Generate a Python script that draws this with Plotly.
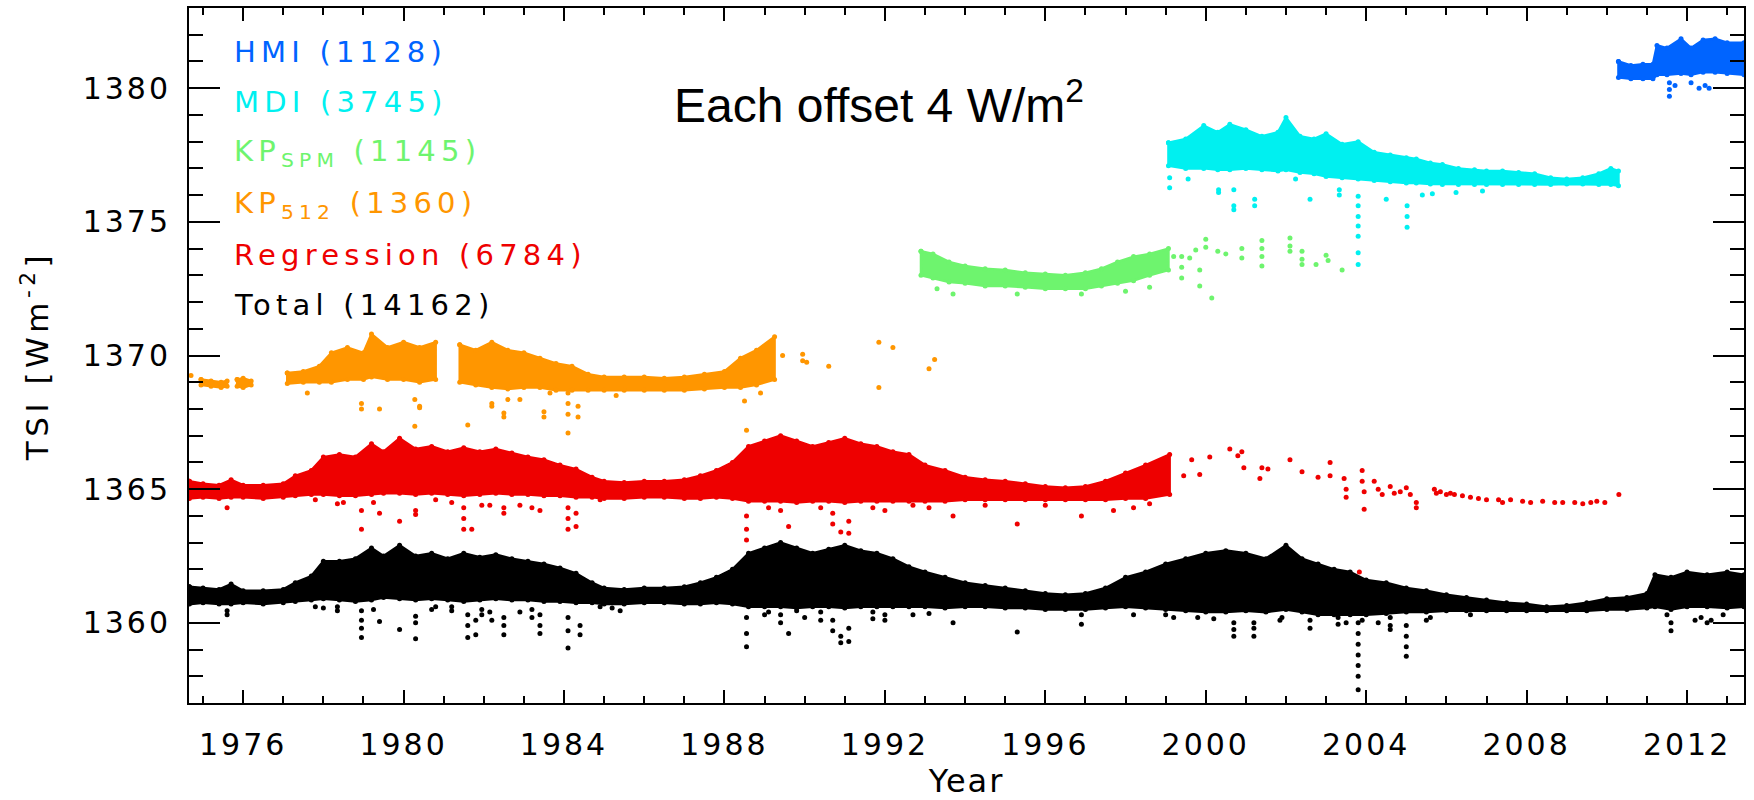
import plotly.graph_objects as go

# ---------------- data ----------------
# Total (black) envelope
total_yr = [1974.66, 1975.0, 1975.4, 1975.7, 1976.0, 1976.5, 1977.0, 1977.3, 1977.7, 1978.0,
            1978.4, 1978.8, 1979.2, 1979.5, 1979.9, 1980.3, 1980.7, 1981.1, 1981.5, 1981.9,
            1982.3, 1982.7, 1983.1, 1983.5, 1983.9, 1984.3, 1984.7, 1985.0, 1985.5, 1986.0,
            1986.5, 1987.0, 1987.4, 1987.8, 1988.2, 1988.6, 1989.0, 1989.4, 1989.8, 1990.2,
            1990.6, 1991.0, 1991.4, 1991.8, 1992.2, 1992.6, 1993.0, 1993.5, 1994.0, 1994.5,
            1995.0, 1995.5, 1996.0, 1996.5, 1997.0, 1997.5, 1998.0, 1998.5, 1999.0, 1999.5,
            2000.0, 2000.5, 2001.0, 2001.5, 2002.0, 2002.4, 2002.8, 2003.2, 2003.6, 2004.0,
            2004.5, 2005.0, 2005.5, 2006.0, 2006.5, 2007.0, 2007.5, 2008.0, 2008.5, 2009.0,
            2009.5, 2010.0, 2010.5, 2011.0, 2011.2, 2011.6, 2012.0, 2012.5, 2013.0, 2013.42]
total_hi = [1361.35, 1361.3, 1361.25, 1361.45, 1361.2, 1361.2, 1361.25, 1361.5, 1361.75, 1362.3,
            1362.3, 1362.4, 1362.8, 1362.5, 1362.9, 1362.5, 1362.6, 1362.4, 1362.6, 1362.45,
            1362.55, 1362.4, 1362.3, 1362.2, 1362.05, 1361.85, 1361.5, 1361.3, 1361.25, 1361.3,
            1361.3, 1361.35, 1361.5, 1361.7, 1362.0, 1362.6, 1362.8, 1363.0, 1362.8, 1362.6,
            1362.75, 1362.9, 1362.7, 1362.6, 1362.4, 1362.1, 1361.9, 1361.7, 1361.5, 1361.4,
            1361.3, 1361.2, 1361.1, 1361.05, 1361.1, 1361.3, 1361.7, 1361.9, 1362.2, 1362.4,
            1362.6, 1362.7, 1362.6, 1362.4, 1362.9, 1362.4, 1362.2, 1362.0, 1361.9, 1361.6,
            1361.5, 1361.3, 1361.2, 1361.05, 1360.95, 1360.85, 1360.75, 1360.7, 1360.6, 1360.65,
            1360.75, 1360.9, 1360.95, 1361.1, 1361.8, 1361.7, 1361.9, 1361.8, 1361.9, 1361.8]
total_lo = [1360.7, 1360.75, 1360.7, 1360.7, 1360.75, 1360.7, 1360.75, 1360.8, 1360.85, 1360.9,
            1360.85, 1360.8, 1360.85, 1360.95, 1360.9, 1360.85, 1360.9, 1360.85, 1360.8, 1360.85,
            1360.9, 1360.85, 1360.85, 1360.8, 1360.8, 1360.75, 1360.75, 1360.7, 1360.7, 1360.75,
            1360.75, 1360.7, 1360.7, 1360.75, 1360.7, 1360.6, 1360.6, 1360.6, 1360.55, 1360.6,
            1360.6, 1360.55, 1360.6, 1360.6, 1360.6, 1360.6, 1360.6, 1360.55, 1360.6, 1360.6,
            1360.55, 1360.55, 1360.5, 1360.5, 1360.5, 1360.55, 1360.6, 1360.55, 1360.5, 1360.45,
            1360.4, 1360.4, 1360.45, 1360.4, 1360.5, 1360.4, 1360.3, 1360.3, 1360.3, 1360.3,
            1360.35, 1360.4, 1360.4, 1360.45, 1360.45, 1360.45, 1360.45, 1360.45, 1360.45, 1360.45,
            1360.45, 1360.5, 1360.5, 1360.55, 1360.6, 1360.5, 1360.6, 1360.6, 1360.55, 1360.6]
total_dip_yr = [1975.6, 1975.6, 1977.8, 1978.0, 1978.35, 1978.35, 1978.95, 1978.95, 1978.95, 1978.95,
                1979.25, 1979.4, 1979.9, 1980.3, 1980.3, 1980.3, 1980.7, 1980.8, 1981.2, 1981.2,
                1981.6, 1981.6, 1981.6, 1981.8, 1981.8, 1981.95, 1981.95, 1982.15, 1982.2,
                1982.5, 1982.5, 1982.5, 1982.9, 1983.2, 1983.2, 1983.4, 1983.4, 1983.4, 1984.1,
                1984.1, 1984.1, 1984.4, 1984.4, 1984.9, 1985.2, 1985.4, 1988.55, 1988.55, 1988.55,
                1989.0, 1989.1, 1989.4, 1989.4, 1989.6, 1989.8, 1990.0, 1990.4, 1990.4, 1990.7,
                1990.7, 1990.9, 1990.9, 1991.1, 1991.1, 1991.7, 1991.7, 1992.0, 1992.0, 1992.7,
                1993.1, 1993.7, 1995.3, 1996.9, 1996.9, 1998.2, 1999.0, 1999.2, 1999.8, 2000.2,
                2000.7, 2000.7, 2000.7, 2001.2, 2001.2, 2001.2, 2001.85, 2001.9, 2002.6, 2002.6,
                2003.3, 2003.3, 2003.5, 2003.8, 2003.8, 2003.8, 2003.8, 2003.8, 2003.8, 2003.8,
                2003.9, 2004.3, 2004.6, 2004.6, 2004.6, 2005.0, 2005.0, 2005.0, 2005.0, 2005.5,
                2005.6, 2006.6, 2011.5, 2011.6, 2011.6, 2012.2, 2012.35, 2012.5, 2012.6, 2012.9]
total_dip_val = [1360.45, 1360.3, 1360.6, 1360.55, 1360.6, 1360.45, 1360.45, 1360.1, 1359.8, 1359.45,
                 1360.5, 1360.05, 1359.75, 1360.25, 1360.0, 1359.4, 1360.5, 1360.6, 1360.6, 1360.45,
                 1360.3, 1359.9, 1359.45, 1360.1, 1359.55, 1360.5, 1360.3, 1360.4, 1360.1,
                 1360.2, 1359.9, 1359.55, 1360.4, 1360.5, 1360.2, 1360.3, 1359.9, 1359.6, 1360.2,
                 1359.7, 1359.06, 1359.9, 1359.55, 1360.6, 1360.55, 1360.45, 1360.2, 1359.6, 1359.1,
                 1360.3, 1360.4, 1360.3, 1360.0, 1359.6, 1360.45, 1360.2, 1360.4, 1360.1, 1360.1,
                 1359.7, 1359.5, 1359.25, 1359.8, 1359.3, 1360.4, 1360.15, 1360.3, 1360.1, 1360.3,
                 1360.35, 1360.0, 1359.66, 1360.3, 1359.95, 1360.3, 1360.3, 1360.2, 1360.2, 1360.15,
                 1360.0, 1359.75, 1359.5, 1360.0, 1359.8, 1359.5, 1360.1, 1360.2, 1360.1, 1359.8,
                 1360.2, 1359.95, 1360.0, 1360.0, 1359.6, 1359.2, 1358.8, 1358.4, 1358.0, 1357.5,
                 1360.1, 1360.0, 1360.2, 1359.9, 1359.75, 1359.9, 1359.5, 1359.1, 1358.75, 1360.1,
                 1360.2, 1360.3, 1360.3, 1359.7, 1360.0, 1360.1, 1360.2, 1360.0, 1360.1, 1360.3]

# Regression (red) envelope
regr_yr = [1974.66, 1975.0, 1975.4, 1975.7, 1976.0, 1976.5, 1977.0, 1977.3, 1977.7, 1978.0,
           1978.4, 1978.8, 1979.2, 1979.5, 1979.9, 1980.3, 1980.7, 1981.1, 1981.5, 1981.9,
           1982.3, 1982.7, 1983.1, 1983.5, 1983.9, 1984.3, 1984.7, 1985.0, 1985.5, 1986.0,
           1986.5, 1987.0, 1987.4, 1987.8, 1988.2, 1988.6, 1989.0, 1989.4, 1989.8, 1990.2,
           1990.6, 1991.0, 1991.4, 1991.8, 1992.2, 1992.6, 1993.0, 1993.5, 1994.0, 1994.5,
           1995.0, 1995.5, 1996.0, 1996.5, 1997.0, 1997.5, 1998.0, 1998.5, 1999.1]
regr_hi = [1365.3, 1365.2, 1365.15, 1365.35, 1365.15, 1365.15, 1365.2, 1365.5, 1365.7, 1366.2,
           1366.3, 1366.2, 1366.7, 1366.4, 1366.9, 1366.5, 1366.6, 1366.4, 1366.55, 1366.4,
           1366.5, 1366.35, 1366.2, 1366.1, 1365.9, 1365.75, 1365.45, 1365.3, 1365.25, 1365.3,
           1365.3, 1365.35, 1365.5, 1365.7, 1366.0, 1366.6, 1366.8, 1367.0, 1366.8, 1366.6,
           1366.75, 1366.9, 1366.7, 1366.6, 1366.4, 1366.3, 1365.9, 1365.7, 1365.45, 1365.35,
           1365.3, 1365.2, 1365.1, 1365.05, 1365.1, 1365.3, 1365.6, 1365.9, 1366.3]
regr_lo = [1364.65, 1364.7, 1364.65, 1364.7, 1364.7, 1364.65, 1364.7, 1364.75, 1364.8, 1364.8,
           1364.75, 1364.75, 1364.8, 1364.85, 1364.85, 1364.8, 1364.85, 1364.8, 1364.75, 1364.8,
           1364.85, 1364.8, 1364.8, 1364.75, 1364.75, 1364.7, 1364.7, 1364.65, 1364.65, 1364.7,
           1364.7, 1364.65, 1364.65, 1364.7, 1364.65, 1364.55, 1364.55, 1364.55, 1364.5, 1364.55,
           1364.55, 1364.5, 1364.55, 1364.55, 1364.55, 1364.55, 1364.55, 1364.55, 1364.6, 1364.6,
           1364.6, 1364.6, 1364.6, 1364.6, 1364.6, 1364.6, 1364.65, 1364.65, 1364.8]
regr_pt_yr = [1975.6, 1977.8, 1978.35, 1978.5, 1978.95, 1978.95, 1979.25, 1979.4, 1979.9, 1980.3,
              1980.3, 1980.8, 1981.2, 1981.5, 1981.5, 1981.5, 1981.7, 1981.95, 1982.15, 1982.5,
              1982.5, 1982.9, 1983.2, 1983.4, 1984.1, 1984.1, 1984.1, 1984.3, 1984.3, 1984.9,
              1988.55, 1988.55, 1988.55, 1989.1, 1989.4, 1989.6, 1990.4, 1990.7, 1990.7, 1990.9,
              1991.1, 1991.1, 1991.7, 1992.0, 1992.7, 1993.1, 1993.7, 1994.5, 1995.3, 1996.0,
              1996.9, 1997.7, 1998.2, 1998.6,
              1999.45, 1999.65, 1999.85, 2000.1, 2000.6, 2000.8, 2000.9, 2000.95, 2001.35, 2001.4,
              2001.55, 2002.1, 2002.4, 2002.8, 2003.1, 2003.1, 2003.45, 2003.5, 2003.5, 2003.9,
              2003.9, 2003.95, 2003.95, 2004.2, 2004.3, 2004.4, 2004.6, 2004.7, 2004.85, 2005.0,
              2005.1, 2005.25, 2005.25, 2005.7, 2005.75, 2005.85, 2006.0, 2006.1, 2006.2, 2006.4,
              2006.6, 2006.8, 2007.0, 2007.3, 2007.4, 2007.6, 2007.9, 2008.1, 2008.4, 2008.7,
              2008.9, 2009.2, 2009.4, 2009.6, 2009.75, 2009.95, 2010.3, 2003.83]
regr_pt_val = [1364.3, 1364.6, 1364.45, 1364.5, 1364.2, 1363.5, 1364.5, 1364.1, 1363.8, 1364.2,
               1364.05, 1364.6, 1364.5, 1364.3, 1363.9, 1363.5, 1363.5, 1364.4, 1364.4, 1364.3,
               1364.1, 1364.4, 1364.3, 1364.2, 1364.3, 1363.9, 1363.5, 1364.1, 1363.6, 1364.6,
               1364.0, 1363.5, 1363.1, 1364.3, 1364.2, 1363.6, 1364.3, 1364.1, 1363.7, 1363.4,
               1363.8, 1363.35, 1364.3, 1364.2, 1364.4, 1364.3, 1364.0, 1364.4, 1363.7, 1364.4,
               1364.0, 1364.2, 1364.3, 1364.45,
               1365.5, 1366.1, 1365.55, 1366.2, 1366.5, 1366.25, 1366.4, 1365.8, 1365.4, 1365.8,
               1365.75, 1366.1, 1365.65, 1365.45, 1366.0, 1365.5, 1365.4, 1365.0, 1364.7, 1365.7,
               1365.3, 1364.9, 1364.25, 1365.3, 1365.0, 1364.8, 1365.1, 1364.85, 1364.9, 1365.05,
               1364.8, 1364.5, 1364.3, 1365.0, 1364.85, 1364.9, 1364.8, 1364.85, 1364.8, 1364.75,
               1364.7, 1364.65, 1364.6, 1364.6, 1364.5, 1364.6, 1364.55, 1364.5, 1364.55, 1364.5,
               1364.5, 1364.5, 1364.45, 1364.5, 1364.55, 1364.5, 1364.8, 1361.9]

# KP512 (orange) envelope, None marks a data gap
kp512_yr = [1974.95, 1975.2, 1975.45, 1975.6, None, 1975.85, 1976.0, 1976.2, None,
            1977.1, 1977.5, 1977.9, 1978.2, 1978.6, 1979.0, 1979.2, 1979.6, 1980.0, 1980.4, 1980.8, None,
            1981.4, 1981.8, 1982.2, 1982.6, 1983.0, 1983.4, 1983.8, 1984.2, 1984.6, 1985.0,
            1985.5, 1986.0, 1986.5, 1987.0, 1987.5, 1988.0, 1988.4, 1988.8, 1989.25]
kp512_hi = [1369.1, 1369.05, 1369.0, 1369.05, None, 1369.1, 1369.15, 1369.05, None,
            1369.35, 1369.4, 1369.6, 1370.1, 1370.3, 1370.1, 1370.8, 1370.3, 1370.5, 1370.3, 1370.5, None,
            1370.4, 1370.2, 1370.5, 1370.2, 1370.1, 1369.9, 1369.7, 1369.6, 1369.3, 1369.2,
            1369.2, 1369.2, 1369.15, 1369.2, 1369.3, 1369.4, 1369.9, 1370.2, 1370.7]
kp512_lo = [1368.9, 1368.85, 1368.8, 1368.85, None, 1368.85, 1368.8, 1368.9, None,
            1368.95, 1369.0, 1369.0, 1369.0, 1369.1, 1369.1, 1369.2, 1369.1, 1369.1, 1369.0, 1369.1, None,
            1369.0, 1368.9, 1368.8, 1368.75, 1368.8, 1368.8, 1368.7, 1368.7, 1368.7, 1368.7,
            1368.7, 1368.7, 1368.7, 1368.7, 1368.75, 1368.8, 1368.8, 1368.9, 1369.1]
kp512_pt_yr = [1974.7, 1977.6, 1978.95, 1978.95, 1979.4, 1980.28, 1980.4, 1980.4, 1980.28, 1981.6,
               1982.2, 1982.2, 1982.5, 1982.5, 1982.6, 1982.9, 1983.5, 1983.5, 1983.65, 1984.1,
               1984.1, 1984.1, 1984.1, 1984.35, 1984.35, 1985.3, 1988.5, 1988.55, 1988.9,
               1989.45, 1989.95, 1989.95, 1990.05, 1990.6, 1991.85, 1991.85, 1992.2, 1993.1, 1993.24]
kp512_pt_val = [1369.25, 1368.6, 1368.2, 1368.0, 1368.0, 1368.35, 1368.1, 1368.05, 1367.35, 1367.4,
                1368.2, 1368.1, 1367.85, 1367.7, 1368.35, 1368.35, 1367.9, 1367.7, 1368.6, 1368.6,
                1368.2, 1367.8, 1367.1, 1368.1, 1367.7, 1368.5, 1368.3, 1367.2, 1368.6,
                1370.0, 1370.05, 1369.8, 1369.75, 1369.6, 1370.5, 1368.8, 1370.3, 1369.5, 1369.85]

# KP SPM (green) envelope
spm_yr = [1992.9, 1993.2, 1993.6, 1994.0, 1994.5, 1995.0, 1995.5, 1996.0, 1996.5, 1997.0,
          1997.4, 1997.8, 1998.2, 1998.6, 1999.07]
spm_hi = [1373.9, 1373.8, 1373.5, 1373.35, 1373.25, 1373.2, 1373.1, 1373.05, 1373.0, 1373.1,
          1373.25, 1373.5, 1373.7, 1373.8, 1374.0]
spm_lo = [1373.0, 1372.9, 1372.75, 1372.7, 1372.6, 1372.6, 1372.55, 1372.5, 1372.5, 1372.5,
          1372.6, 1372.7, 1372.8, 1373.0, 1373.2]
spm_pt_yr = [1993.3, 1993.7, 1995.3, 1996.9, 1998.0, 1998.6,
             1999.2, 1999.4, 1999.4, 1999.4, 1999.6, 1999.75, 1999.85, 1999.85, 2000.0, 2000.0,
             2000.15, 2000.3, 2000.5, 2000.9, 2000.9, 2001.4, 2001.4, 2001.4, 2001.4, 2002.1,
             2002.1, 2002.1, 2002.4, 2002.4, 2002.4, 2002.75, 2003.0, 2003.05, 2003.4]
spm_pt_val = [1372.5, 1372.3, 1372.3, 1372.3, 1372.4, 1372.55,
              1373.7, 1373.7, 1373.3, 1372.9, 1373.65, 1373.95, 1373.2, 1372.6, 1374.35, 1374.05,
              1372.15, 1373.9, 1373.8, 1374.0, 1373.65, 1374.3, 1374.0, 1373.7, 1373.35, 1374.4,
              1374.1, 1373.9, 1373.9, 1373.6, 1373.4, 1373.4, 1373.75, 1373.55, 1373.2]

# MDI (cyan) envelope
mdi_yr = [1999.07, 1999.5, 1999.95, 2000.3, 2000.6, 2001.0, 2001.4, 2001.8, 2002.0, 2002.35,
          2002.7, 2003.0, 2003.4, 2003.8, 2004.2, 2004.6, 2005.0, 2005.25, 2005.6, 2005.9,
          2006.3, 2006.7, 2007.0, 2007.4, 2007.8, 2008.2, 2008.6, 2009.0, 2009.4, 2009.8,
          2010.1, 2010.29]
mdi_hi = [1377.96, 1378.1, 1378.6, 1378.35, 1378.65, 1378.45, 1378.2, 1378.35, 1378.9, 1378.2,
          1378.1, 1378.3, 1377.9, 1378.0, 1377.6, 1377.5, 1377.4, 1377.35, 1377.2, 1377.15,
          1377.0, 1376.95, 1376.9, 1376.9, 1376.85, 1376.8, 1376.65, 1376.6, 1376.65, 1376.8,
          1377.0, 1376.9]
mdi_lo = [1377.1, 1377.0, 1377.0, 1376.95, 1376.95, 1377.0, 1376.95, 1376.9, 1376.95, 1376.85,
          1376.8, 1376.7, 1376.65, 1376.6, 1376.55, 1376.5, 1376.45, 1376.45, 1376.42, 1376.4,
          1376.4, 1376.4, 1376.4, 1376.4, 1376.4, 1376.4, 1376.4, 1376.42, 1376.42, 1376.4,
          1376.4, 1376.35]
mdi_pt_yr = [1999.1, 1999.1, 1999.56, 2000.32, 2000.32, 2000.7, 2000.7, 2000.7, 2001.22, 2001.22,
             2002.24, 2002.6, 2003.33, 2003.33, 2003.8, 2003.8, 2003.8, 2003.8, 2003.8, 2003.8,
             2003.8, 2004.5, 2005.02, 2005.02, 2005.02, 2005.4, 2005.65, 2006.24, 2006.9]
mdi_pt_val = [1376.65, 1376.28, 1376.6, 1376.2, 1376.1, 1376.2, 1375.6, 1375.45, 1375.85, 1375.6,
              1376.6, 1375.85, 1376.2, 1376.0, 1375.96, 1375.6, 1375.2, 1374.84, 1374.46, 1373.84,
              1373.4, 1375.85, 1375.6, 1375.2, 1374.8, 1376.0, 1376.05, 1376.1, 1376.15]

# HMI (blue) envelope
hmi_yr = [2010.29, 2010.6, 2010.9, 2011.15, 2011.25, 2011.5, 2011.85, 2012.1, 2012.4, 2012.7,
          2013.0, 2013.42]
hmi_hi = [1381.0, 1380.85, 1380.9, 1380.9, 1381.6, 1381.5, 1381.85, 1381.5, 1381.8, 1381.85,
          1381.7, 1381.7]
hmi_lo = [1380.4, 1380.35, 1380.35, 1380.35, 1380.5, 1380.5, 1380.55, 1380.5, 1380.6, 1380.6,
          1380.55, 1380.5]
hmi_pt_yr = [2011.56, 2011.56, 2011.56, 2011.7, 2012.1, 2012.3, 2012.45, 2012.55]
hmi_pt_val = [1380.2, 1379.95, 1379.7, 1380.1, 1380.2, 1380.0, 1380.1, 1380.0]

# legend labels and ticks
legend_labels = ["HMI (1128)", "MDI (3745)", "KP<sub>SPM</sub> (1145)", "KP<sub>512</sub> (1360)",
                 "Regression (6784)", "Total (14162)"]
x_ticks = [1976, 1980, 1984, 1988, 1992, 1996, 2000, 2004, 2008, 2012]
y_ticks = [1360, 1365, 1370, 1375, 1380]

# ---------------- styles ----------------
C_TOTAL = "#000000"
C_REGR = "#EE0000"
C_512 = "#FF9600"
C_SPM = "#6EF46E"
C_MDI = "#00F0F0"
C_HMI = "#0064FF"
FONT = "DejaVu Sans"


def spaced(text, px):
    return '<span style="letter-spacing:%.1fpx">%s</span>' % (px, text)


def band_trace(yr, hi, lo, color):
    xs, ys = [], []
    seg_x, seg_hi, seg_lo = [], [], []
    for a, b, c in list(zip(yr, hi, lo)) + [(None, None, None)]:
        if a is None:
            if seg_x:
                xs += seg_x + seg_x[::-1] + [seg_x[0], None]
                ys += seg_hi + seg_lo[::-1] + [seg_hi[0], None]
            seg_x, seg_hi, seg_lo = [], [], []
        else:
            seg_x.append(a); seg_hi.append(b); seg_lo.append(c)
    return go.Scatter(x=xs, y=ys, mode="lines+markers", fill="toself", fillcolor=color,
                      line=dict(color=color, width=2.5), marker=dict(color=color, size=5),
                      hoverinfo="skip", showlegend=False)


def pts_trace(yr, val, color):
    return go.Scatter(x=yr, y=val, mode="markers", marker=dict(color=color, size=5, line=dict(width=0)),
                      hoverinfo="skip", showlegend=False)


fig = go.Figure()
fig.add_trace(band_trace(total_yr, total_hi, total_lo, C_TOTAL))
fig.add_trace(pts_trace(total_dip_yr, total_dip_val, C_TOTAL))
fig.add_trace(band_trace(regr_yr, regr_hi, regr_lo, C_REGR))
fig.add_trace(pts_trace(regr_pt_yr, regr_pt_val, C_REGR))
fig.add_trace(band_trace(kp512_yr, kp512_hi, kp512_lo, C_512))
fig.add_trace(pts_trace(kp512_pt_yr, kp512_pt_val, C_512))
fig.add_trace(band_trace(spm_yr, spm_hi, spm_lo, C_SPM))
fig.add_trace(pts_trace(spm_pt_yr, spm_pt_val, C_SPM))
fig.add_trace(band_trace(mdi_yr, mdi_hi, mdi_lo, C_MDI))
fig.add_trace(pts_trace(mdi_pt_yr, mdi_pt_val, C_MDI))
fig.add_trace(band_trace(hmi_yr, hmi_hi, hmi_lo, C_HMI))
fig.add_trace(pts_trace(hmi_pt_yr, hmi_pt_val, C_HMI))

# legend as coloured text
leg_colors = [C_HMI, C_MDI, C_SPM, C_512, C_REGR, C_TOTAL]
leg_y = [0.9367, 0.8647, 0.7914, 0.7165, 0.6446, 0.5727]
for lab, col, yy in zip(legend_labels, leg_colors, leg_y):
    fig.add_annotation(x=0.0277, y=yy, xref="paper", yref="paper", text=spaced(lab, 5.2),
                       showarrow=False, xanchor="left", yanchor="middle",
                       font=dict(family=FONT, size=29, color=col))

fig.add_annotation(x=0.3106, y=0.865, xref="paper", yref="paper",
                   text="Each offset 4 W/m<sup>2</sup>", showarrow=False,
                   xanchor="left", yanchor="middle",
                   font=dict(family="Liberation Sans", size=48, color="black"))

axis_common = dict(showline=True, linecolor="black", linewidth=2, mirror="ticks",
                   ticks="inside", tickcolor="black", tickwidth=2, showgrid=False,
                   zeroline=False, tickfont=dict(family=FONT, size=30, color="black"))

fig.update_xaxes(range=[1974.65, 2013.42], tickvals=x_ticks,
                 ticktext=[spaced(str(v), 3) for v in x_ticks], ticklen=13,
                 minor=dict(dtick=1, tick0=1976, ticks="inside", ticklen=7, tickwidth=2,
                            tickcolor="black", showgrid=False),
                 ticklabelstandoff=14,
                 title=dict(text=spaced("Year", 2), font=dict(family=FONT, size=32, color="black"),
                            standoff=17),
                 **axis_common)
fig.update_yaxes(range=[1357, 1383], tickvals=y_ticks,
                 ticktext=[spaced(str(v), 3) for v in y_ticks], ticklen=31,
                 minor=dict(dtick=1, tick0=1360, ticks="inside", ticklen=14, tickwidth=2,
                            tickcolor="black", showgrid=False),
                 ticklabelstandoff=10,
                 title=dict(text=spaced("TSI [Wm<sup>-2</sup>]", 4.5),
                            font=dict(family=FONT, size=31, color="black"), standoff=25),
                 **axis_common)

fig.update_layout(width=1754, height=800, autosize=False,
                  margin=dict(l=189, r=10, t=8, b=97, autoexpand=False),
                  paper_bgcolor="white", plot_bgcolor="white")

fig.write_html("out.html", config={"displayModeBar": False},
               post_script="document.body.style.margin='0';")
